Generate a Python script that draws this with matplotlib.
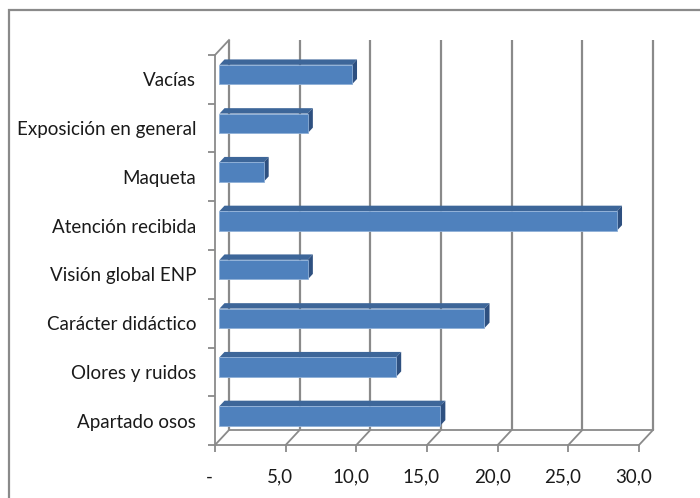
import matplotlib
matplotlib.use("Agg")
import matplotlib.pyplot as plt
import matplotlib.transforms as mtransforms
from matplotlib import font_manager
from matplotlib.patches import Rectangle

categories = ["Apartado osos", "Olores y ruidos", "Carácter didáctico", "Visión global ENP",
              "Atención recibida", "Maqueta", "Exposición en general", "Vacías"]
values = [15.625, 12.5, 18.75, 6.25, 28.125, 3.125, 6.25, 9.375]
xticks = [0, 5, 10, 15, 20, 25, 30]
xlabels = ["-", "5,0", "10,0", "15,0", "20,0", "25,0", "30,0"]

# fuente parecida a Calibri si existe
names = {f.name for f in font_manager.fontManager.ttflist}
family = "Liberation Sans Narrow" if "Liberation Sans Narrow" in names else "Lato"
plt.rcParams["font.family"] = [family, "DejaVu Sans"]

W, H = 700, 498
fig = plt.figure(figsize=(W / 100, H / 100), dpi=100)

# ejes: 0 -> px 215, 30 -> px 639 ; categorías de 48.75 px, suelo frontal en y=445
px_x = (639 - 215) / 30.0
px_y = 48.75
x0_px, y0_px = 215, 445
xmax = (653 - 215) / px_x
ymax = -0.5 + (445 - 40) / px_y
ax = fig.add_axes([x0_px / W, 1 - y0_px / H, (653 - x0_px) / W, (y0_px - 40) / H])
ax.set_xlim(0, xmax)
ax.set_ylim(-0.5, ymax)
ax.patch.set_visible(False)

grid_c = "#8a8a8a"
txt_c = "#1a1a1a"
dx = 14.0 / px_x          # profundidad en unidades de x
dy = 15.0 / px_y          # profundidad en unidades de categoría
n = len(categories)
top = n - 0.5 + dy

# pared del fondo: líneas verticales
for v in xticks:
    ax.plot([v + dx, v + dx], [-0.5 + dy, top], color=grid_c, lw=1.6, zorder=1,
            clip_on=False, solid_capstyle="butt")
    ax.plot([v, v + dx], [-0.5, -0.5 + dy], color=grid_c, lw=1.3, zorder=1, clip_on=False)
ax.plot([dx, xticks[-1] + dx], [-0.5 + dy, -0.5 + dy], color=grid_c, lw=1.3, zorder=1, clip_on=False)
ax.plot([0, dx], [n - 0.5, top], color=grid_c, lw=1.3, zorder=1, clip_on=False)

# barras 3D
f1, f2 = 0.32, 0.68
th = 0.40
front_c, top_c, side_c, edge_c = "#4f81bd", "#3d6699", "#2e5080", "#8fb0d8"
for i, v in enumerate(values):
    xa, ya = f1 * dx, i + f1 * dy - th / 2
    xb, yb = v + f1 * dx, i + f1 * dy + th / 2
    ox, oy = (f2 - f1) * dx, (f2 - f1) * dy
    ax.fill([xa, xb, xb + ox, xa + ox], [yb, yb, yb + oy, yb + oy], color=top_c, lw=0, zorder=3)
    ax.fill([xb, xb + ox, xb + ox, xb], [ya, ya + oy, yb + oy, yb], color=side_c, lw=0, zorder=3)
    ax.fill([xa, xb, xb, xa], [ya, ya, yb, yb], facecolor=front_c, edgecolor=edge_c,
            lw=0.6, zorder=4)

# ejes frontales
for s in ["top", "right"]:
    ax.spines[s].set_visible(False)
for s in ["left", "bottom"]:
    ax.spines[s].set_color(grid_c)
    ax.spines[s].set_linewidth(1.3)
ax.spines["left"].set_bounds(-0.5, n - 0.5)
ax.spines["bottom"].set_bounds(0, xticks[-1])

ax.set_yticks([i - 0.5 for i in range(n + 1)])
ax.set_yticklabels([])
ax.set_yticks(range(n), minor=True)
ax.set_yticklabels(categories, minor=True, fontsize=13.5, color=txt_c)
ax.tick_params(axis="y", which="major", length=5, width=1.3, color=grid_c)
ax.tick_params(axis="y", which="minor", length=0, pad=13.5)

ax.set_xticks(xticks)
ax.set_xticklabels(xlabels, fontsize=13.5, color=txt_c)
ax.tick_params(axis="x", length=5, width=1.3, color=grid_c, pad=12)
shift = mtransforms.ScaledTranslation(-5.5 / 100, 0, fig.dpi_scale_trans)
for lab in ax.get_xticklabels():
    lab.set_transform(lab.get_transform() + shift)

# marco del gráfico
fig.add_artist(Rectangle((9 / W, -0.2), 1.2, 1.2 - 10 / H, transform=fig.transFigure,
                         fill=False, edgecolor="#8a8a8a", lw=1.6))

fig.savefig("out.png", dpi=100)
